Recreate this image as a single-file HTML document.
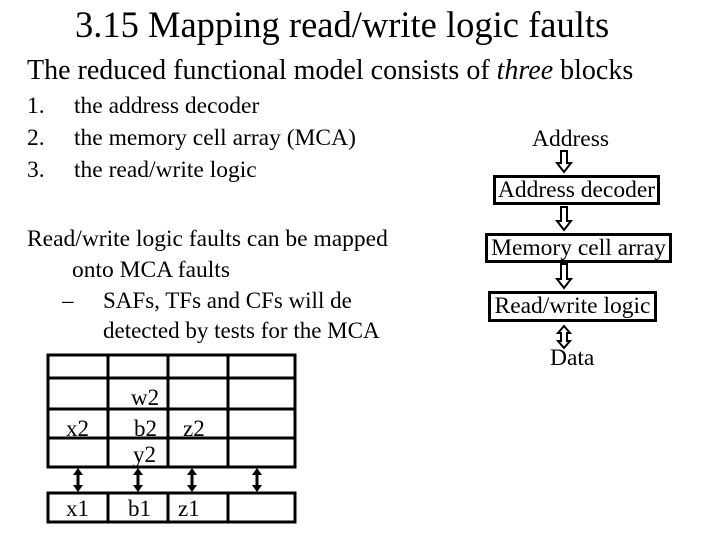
<html><head><style>
body{margin:0;width:720px;height:540px;background:#fff;position:relative;font-family:"Liberation Serif",serif;color:#000;overflow:hidden}
.t{position:absolute;white-space:nowrap}
.b{position:absolute;border:3px solid #000;box-sizing:border-box;font-size:23.5px;text-align:center;line-height:24px;white-space:nowrap}
</style></head><body>
<div class="t" style="left:75px;top:3px;font-size:36.5px">3.15 Mapping read/write logic faults</div>
<div class="t" style="left:27px;top:55px;font-size:28px">The reduced functional model consists of <i>three</i> blocks</div>
<div class="t" style="left:27px;top:90px;font-size:23.5px;line-height:32px">1.<br>2.<br>3.</div>
<div class="t" style="left:74px;top:90px;font-size:23.5px;line-height:32px">the address decoder<br>the memory cell array (MCA)<br>the read/write logic</div>
<div class="t" style="left:27px;top:224px;font-size:23.5px;line-height:31px">Read/write logic faults can be mapped<br><span style="padding-left:45px">onto MCA faults</span></div>
<div class="t" style="left:62px;top:286px;font-size:23px;line-height:30px">–</div>
<div class="t" style="left:103px;top:286px;font-size:23px;line-height:30px">SAFs, TFs and CFs will de<br>detected by tests for the MCA</div>
<div class="t" style="left:532px;top:126px;font-size:23.5px">Address</div>
<div class="b" style="left:493px;top:175px;width:167px;height:30px">Address decoder</div>
<div class="b" style="left:485px;top:233px;width:187px;height:30px">Memory cell array</div>
<div class="b" style="left:488px;top:291px;width:169px;height:31px">Read/write logic</div>
<div class="t" style="left:550px;top:345px;font-size:23.5px">Data</div>
<svg width="720" height="540" style="position:absolute;left:0;top:0">
<g fill="#fff" stroke="#000" stroke-width="2">
<path d="M561 151h6v12h4l-7 9l-7-9h4z"/>
<path d="M561 207h6v14h4l-7 9l-7-9h4z"/>
<path d="M561 264h6v15h4l-7 9l-7-9h4z"/>
<path d="M564 326l6 7h-3v8h3l-6 7l-6-7h3v-8h-3z"/>
</g>
<g stroke="#000" stroke-width="3" fill="none">
<rect x="48" y="355" width="247" height="112"/>
<line x1="48" y1="378" x2="295" y2="378"/><line x1="48" y1="409" x2="295" y2="409"/><line x1="48" y1="438" x2="295" y2="438"/>
<line x1="108" y1="355" x2="108" y2="467"/><line x1="168" y1="355" x2="168" y2="467"/><line x1="228" y1="355" x2="228" y2="467"/>
<rect x="48" y="493" width="247" height="29"/>
<line x1="108" y1="493" x2="108" y2="522"/><line x1="168" y1="493" x2="168" y2="522"/><line x1="228" y1="493" x2="228" y2="522"/>
<line x1="78" y1="474" x2="78" y2="486"/><line x1="138" y1="474" x2="138" y2="486"/><line x1="192" y1="474" x2="192" y2="486"/><line x1="257" y1="474" x2="257" y2="486"/>
</g>
<g fill="#000">
<path d="M73 475l5-7l5 7z M73 485l5 7l5-7z"/>
<path d="M133 475l5-7l5 7z M133 485l5 7l5-7z"/>
<path d="M187 475l5-7l5 7z M187 485l5 7l5-7z"/>
<path d="M252 475l5-7l5 7z M252 485l5 7l5-7z"/>
</g>
<g font-family="Liberation Serif" font-size="23">
<text x="66" y="436">x2</text><text x="131" y="405">w2</text><text x="134" y="436">b2</text><text x="133" y="462">y2</text><text x="183" y="436">z2</text>
<text x="66" y="516">x1</text><text x="128" y="516">b1</text><text x="178" y="516">z1</text>
</g>
</svg>
</body></html>
